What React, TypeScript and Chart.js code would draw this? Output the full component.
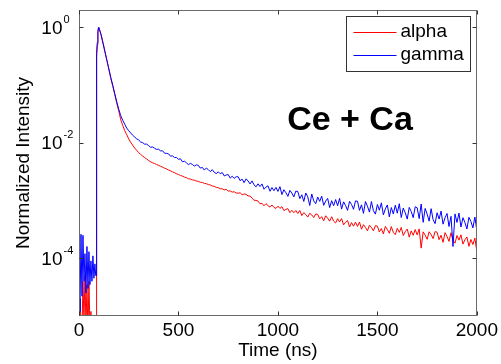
import React, { useEffect, useRef } from "react";
import { Chart, registerables } from "chart.js";

Chart.register(...registerables);

// ---- data ----
const timeNs = [
  0, 5, 10, 15, 20, 25, 30, 35, 40, 45, 50, 55, 60, 65, 70, 75, 80, 84, 87, 88, 89, 92, 95, 98,
  100, 110, 120, 130, 140, 150, 160, 170, 180, 190,
  200, 210, 220, 230, 240, 250, 260, 270, 280, 290,
  300, 310, 320, 330, 340, 350, 360, 370, 380, 390,
  400, 410, 420, 430, 440, 450, 460, 470, 480, 490,
  500, 510, 520, 530, 540, 550, 560, 570, 580, 590,
  600, 610, 620, 630, 640, 650, 660, 670, 680, 690,
  700, 710, 720, 730, 740, 750, 760, 770, 780, 790,
  800, 810, 820, 830, 840, 850, 860, 870, 880, 890,
  900, 910, 920, 930, 940, 950, 960, 970, 980, 990,
  1000, 1010, 1020, 1030, 1040, 1050, 1060, 1070, 1080, 1090,
  1100, 1110, 1120, 1130, 1140, 1150, 1160, 1170, 1180, 1190,
  1200, 1210, 1220, 1230, 1240, 1250, 1260, 1270, 1280, 1290,
  1300, 1310, 1320, 1330, 1340, 1350, 1360, 1370, 1380, 1390,
  1400, 1410, 1420, 1430, 1440, 1450, 1460, 1470, 1480, 1490,
  1500, 1510, 1520, 1530, 1540, 1550, 1560, 1570, 1580, 1590,
  1600, 1610, 1620, 1630, 1640, 1650, 1660, 1670, 1680, 1690,
  1700, 1710, 1720, 1730, 1740, 1750, 1760, 1770, 1780, 1790,
  1800, 1810, 1820, 1830, 1840, 1850, 1860, 1870, 1880, 1890,
  1900, 1910, 1920, 1930, 1940, 1950, 1960, 1970, 1980, 1990,
  2000,
];

const alphaIntensity = [
  6e-6, 2e-5, 5e-6, 5e-6, 4e-5, 8e-6, 5e-5, 6e-6, 3.5e-5, 5e-6, 4e-5, 6e-6, 1.2e-5, 5e-6, 5e-6, 5e-6, 5e-6, 5e-6, 5e-6, 3e-3, 0.3, 0.5, 0.8, 0.97,
  0.98, 0.78, 0.56, 0.39, 0.27, 0.19, 0.13, 0.095, 0.068, 0.048,
  0.0355, 0.025, 0.02, 0.0162, 0.0138, 0.0117, 0.0102, 0.0091, 0.0081, 0.0074,
  6.76e-3, 6.3e-3, 5.9e-3, 5.55e-3, 5.26e-3, 4.94e-3, 4.69e-3, 4.51e-3, 4.38e-3, 4.21e-3,
  4.08e-3, 3.92e-3, 3.79e-3, 3.64e-3, 3.53e-3, 3.38e-3, 3.28e-3, 3.14e-3, 3.04e-3, 2.91e-3,
  2.83e-3, 2.72e-3, 2.65e-3, 2.55e-3, 2.49e-3, 2.39e-3, 2.35e-3, 2.28e-3, 2.25e-3, 2.18e-3,
  2.15e-3, 2.07e-3, 2.06e-3, 1.98e-3, 1.96e-3, 1.89e-3, 1.86e-3, 1.79e-3, 1.76e-3, 1.69e-3,
  1.67e-3, 1.6e-3, 1.6e-3, 1.53e-3, 1.56e-3, 1.46e-3, 1.47e-3, 1.4e-3, 1.42e-3, 1.35e-3,
  1.34e-3, 1.36e-3, 1.26e-3, 1.3e-3, 1.28e-3, 1.2e-3, 1.2e-3, 1.1e-3, 1.01e-3, 1.01e-3,
  9.74e-4, 8.79e-4, 8.95e-4, 8.12e-4, 8.85e-4, 8.2e-4, 7.68e-4, 8.37e-4, 7.62e-4, 7.31e-4,
  7.98e-4, 7.32e-4, 7.83e-4, 6.68e-4, 7.04e-4, 7.24e-4, 6.17e-4, 6.77e-4, 6.15e-4, 6.7e-4,
  5.98e-4, 6.73e-4, 5.49e-4, 6.19e-4, 5.72e-4, 5.18e-4, 6.02e-4, 5.62e-4, 5.09e-4, 5.85e-4,
  5.75e-4, 4.81e-4, 5.26e-4, 4.46e-4, 5.45e-4, 4.94e-4, 4.39e-4, 5.25e-4, 4.4e-4, 4.09e-4,
  4.85e-4, 4.26e-4, 4.87e-4, 3.79e-4, 4.21e-4, 4.49e-4, 3.48e-4, 4.15e-4, 3.6e-4, 4.23e-4,
  3.56e-4, 4.25e-4, 3.19e-4, 3.82e-4, 3.43e-4, 2.99e-4, 3.74e-4, 3.41e-4, 2.98e-4, 3.67e-4,
  3.6e-4, 2.85e-4, 3.28e-4, 2.64e-4, 3.56e-4, 3.15e-4, 2.71e-4, 3.54e-4, 2.8e-4, 2.57e-4,
  3.3e-4, 2.81e-4, 3.42e-4, 2.48e-4, 2.89e-4, 3.21e-4, 2.32e-4, 2.98e-4, 2.5e-4, 3.15e-4,
  2.54e-4, 3.23e-4, 1.5e-4, 2.87e-4, 2.52e-4, 2.13e-4, 2.88e-4, 2.58e-4, 2.19e-4, 2.9e-4,
  2.83e-4, 2.1e-4, 2.51e-4, 1.89e-4, 2.78e-4, 2.39e-4, 1.96e-4, 2.77e-4, 2.04e-4, 1.83e-4,
  2.48e-4, 2.06e-4, 2.55e-4, 1.76e-4, 2.09e-4, 2.34e-4, 1.61e-4, 2.12e-4, 1.73e-4, 2.23e-4,
  1.3e-4,
];

const gammaIntensity = [
  2e-5, 1.2e-5, 2.6e-4, 2.2e-5, 2.5e-4, 4e-5, 1.2e-4, 2.5e-5, 1.6e-4, 3e-5, 1.3e-4, 3.5e-5, 9e-5, 4e-5, 1.1e-4, 4.5e-5, 8e-5, 5e-5, 5e-5, 5e-3, 0.35, 0.55, 0.85, 1.0,
  0.98, 0.76, 0.54, 0.38, 0.27, 0.19, 0.135, 0.098, 0.071, 0.051,
  0.038, 0.0295, 0.0245, 0.021, 0.018, 0.0162, 0.0148, 0.0135, 0.0126, 0.0117,
  1.12e-2, 1.035e-2, 1.007e-2, 9.48e-3, 9.5e-3, 8.94e-3, 8.36e-3, 8.49e-3, 8.03e-3, 7.69e-3,
  7.76e-3, 7.25e-3, 7.27e-3, 6.61e-3, 6.57e-3, 6.45e-3, 5.87e-3, 5.94e-3, 5.55e-3, 5.59e-3,
  5.18e-3, 5.3e-3, 4.69e-3, 4.81e-3, 4.51e-3, 4.19e-3, 4.41e-3, 4.21e-3, 3.96e-3, 4.15e-3,
  4.07e-3, 3.65e-3, 3.75e-3, 3.37e-3, 3.66e-3, 3.43e-3, 3.17e-3, 3.43e-3, 3.08e-3, 2.93e-3,
  3.15e-3, 2.91e-3, 3.06e-3, 2.67e-3, 2.77e-3, 2.82e-3, 2.45e-3, 2.64e-3, 2.42e-3, 2.59e-3,
  2.58e-3, 2.21e-3, 2.35e-3, 2.04e-3, 2.38e-3, 2.18e-3, 1.94e-3, 2.19e-3, 1.87e-3, 1.73e-3,
  1.95e-3, 1.75e-3, 1.94e-3, 1.57e-3, 1.71e-3, 1.8e-3, 1.45e-3, 1.68e-3, 1.48e-3, 1.69e-3,
  1.44e-3, 1.74e-3, 1.27e-3, 1.54e-3, 1.37e-3, 1.18e-3, 1.5e-3, 1.35e-3, 1.16e-3, 1.46e-3,
  1.43e-3, 1.08e-3, 1.26e-3, 9.65e-4, 1.35e-3, 1.16e-3, 8.2e-4, 1.3e-3, 9.85e-4, 8.81e-4,
  1.15e-3, 9.69e-4, 1.19e-3, 8.26e-4, 9.8e-4, 1.09e-3, 7.56e-4, 9.94e-4, 8.12e-4, 1.04e-3,
  8.12e-4, 1.09e-3, 7.11e-4, 9.5e-4, 8.21e-4, 6.76e-4, 9.68e-4, 8.55e-4, 7.05e-4, 9.86e-4,
  9.73e-4, 6.76e-4, 8.42e-4, 6.0e-4, 9.62e-4, 7.98e-4, 6.3e-4, 9.6e-4, 6.67e-4, 5.82e-4,
  8.54e-4, 6.79e-4, 9.12e-4, 5.65e-4, 7.18e-4, 8.39e-4, 5.21e-4, 7.58e-4, 5.86e-4, 8.32e-4,
  6.04e-4, 8.81e-4, 5.08e-4, 7.41e-4, 6.13e-4, 4.77e-4, 7.61e-4, 6.48e-4, 5.04e-4, 7.8e-4,
  7.49e-4, 4.86e-4, 8.7e-4, 4.19e-4, 7.3e-4, 5.84e-4, 4.4e-4, 7.23e-4, 4.68e-4, 3.98e-4,
  6.14e-4, 4.78e-4, 6.56e-4, 3.9e-4, 5.05e-4, 5.97e-4, 3.55e-4, 5.33e-4, 1.6e-4, 5.87e-4,
  4.18e-4, 6.07e-4, 3.48e-4, 5.05e-4, 4.17e-4, 3.22e-4, 5.12e-4, 4.34e-4, 3.36e-4, 5.18e-4,
  3.0e-4,
];

const seriesLabels = ["alpha", "gamma"];
const seriesColors = ["#ff0000", "#0000ff"];
const xTickValues = [0, 500, 1000, 1500, 2000];
const yTickValues = [1, 0.01, 0.0001];
const yTickExponents = ["0", "-2", "-4"];
const xTitle = "Time (ns)";
const yTitle = "Normalized Intensity";
const annotationText = "Ce + Ca";

const FONT = 'Arial, "Liberation Sans", sans-serif';

const decorPlugin = {
  id: "decor",
  afterDatasetsDraw(chart: any) {
    const { ctx, chartArea: a, scales } = chart;
    const xs = scales.x;
    const ys = scales.y;
    const L = Math.round(a.left) + 0.5;
    const R = Math.round(a.right) - 0.5;
    const T = Math.round(a.top) + 0.5;
    const B = Math.round(a.bottom) - 0.5;
    ctx.save();
    // frame
    ctx.strokeStyle = "#6a6a6a";
    ctx.lineWidth = 1;
    ctx.strokeRect(L, T, R - L, B - T);
    // ticks (inward, all four sides)
    ctx.strokeStyle = "#333333";
    ctx.beginPath();
    xTickValues.forEach((v) => {
      const px = Math.round(xs.getPixelForValue(v)) + 0.5;
      ctx.moveTo(px, B);
      ctx.lineTo(px, B - 4);
      ctx.moveTo(px, T);
      ctx.lineTo(px, T + 4);
    });
    yTickValues.forEach((v) => {
      const py = Math.round(ys.getPixelForValue(v)) + 0.5;
      ctx.moveTo(L, py);
      ctx.lineTo(L + 4, py);
      ctx.moveTo(R, py);
      ctx.lineTo(R - 4, py);
    });
    ctx.stroke();
    // y tick labels 10^n
    ctx.fillStyle = "#000";
    yTickValues.forEach((v, i) => {
      const py = ys.getPixelForValue(v);
      ctx.font = "19px " + FONT;
      ctx.textAlign = "right";
      ctx.textBaseline = "alphabetic";
      ctx.fillText("10", a.left - 16.5, py + 6.5);
      ctx.font = "11px " + FONT;
      ctx.textAlign = "left";
      ctx.fillText(yTickExponents[i], a.left - 15.5, py - 4.5);
    });
    // legend box
    const bx = Math.round(a.right) - 130.5;
    const by = Math.round(a.top) + 6.5;
    const bw = 124;
    const bh = 55;
    ctx.fillStyle = "#ffffff";
    ctx.fillRect(bx, by, bw, bh);
    ctx.strokeStyle = "#333333";
    ctx.strokeRect(bx, by, bw, bh);
    chart.data.datasets.forEach((ds: any, i: number) => {
      const ly = by + 15 + i * 23.5;
      ctx.strokeStyle = ds.borderColor;
      ctx.lineWidth = 1;
      ctx.beginPath();
      ctx.moveTo(bx + 7, Math.round(ly) + 0.5);
      ctx.lineTo(bx + 50, Math.round(ly) + 0.5);
      ctx.stroke();
      ctx.fillStyle = "#000";
      ctx.font = "19px " + FONT;
      ctx.textAlign = "left";
      ctx.textBaseline = "middle";
      ctx.fillText(ds.label, bx + 54, ly);
    });
    // annotation
    ctx.fillStyle = "#000";
    ctx.font = "bold 34px " + FONT;
    ctx.textAlign = "center";
    ctx.textBaseline = "alphabetic";
    ctx.fillText(annotationText, a.left + 271, a.top + 120);
    ctx.restore();
  },
};

export default function App() {
  const canvasRef = useRef<HTMLCanvasElement | null>(null);

  useEffect(() => {
    const canvas = canvasRef.current;
    if (!canvas) return;
    const seriesValues = [alphaIntensity, gammaIntensity];
    const chart = new Chart(canvas, {
      type: "line",
      data: {
        datasets: seriesValues.map((vals, si) => ({
          label: seriesLabels[si],
          data: timeNs.map((t, i) => ({ x: t, y: vals[i] })),
          borderColor: seriesColors[si],
          backgroundColor: seriesColors[si],
          borderWidth: 1,
          pointRadius: 0,
          tension: 0,
          fill: false,
          order: si === 0 ? 1 : 0,
        })),
      },
      options: {
        animation: false,
        responsive: false,
        devicePixelRatio: 1,
        layout: { padding: { left: 0, right: 22, top: 10, bottom: 0 } },
        plugins: {
          legend: { display: false },
          tooltip: { enabled: false },
        },
        scales: {
          x: {
            type: "linear",
            position: "bottom",
            min: 0,
            max: 2000,
            grid: { display: false, drawTicks: false, tickLength: 0 },
            border: { display: false },
            afterBuildTicks: (s: any) => {
              s.ticks = xTickValues.map((v) => ({ value: v }));
            },
            ticks: {
              color: "#000",
              font: { size: 19, family: FONT },
              padding: 3,
              maxRotation: 0,
              autoSkip: false,
              callback: (v: any) => String(v),
            },
            title: {
              display: true,
              text: xTitle,
              color: "#000",
              font: { size: 19, family: FONT },
              padding: { top: 0, bottom: 2 },
            },
            afterFit: (s: any) => {
              s.height = 48;
            },
          },
          y: {
            type: "logarithmic",
            position: "left",
            min: 1e-5,
            max: 2,
            grid: { display: false, drawTicks: false, tickLength: 0 },
            border: { display: false },
            ticks: { display: false },
            title: {
              display: true,
              text: yTitle,
              color: "#000",
              font: { size: 19, family: FONT },
              padding: { top: 12.5, bottom: 0 },
            },
            afterFit: (s: any) => {
              s.width = 79;
            },
          },
        },
      } as any,
      plugins: [decorPlugin],
    });
    return () => chart.destroy();
  }, []);

  return (
    <div style={{ position: "absolute", left: 0, top: 0, width: 501, height: 364, background: "#fff" }}>
      <canvas ref={canvasRef} width={501} height={364} style={{ display: "block" }} />
    </div>
  );
}
